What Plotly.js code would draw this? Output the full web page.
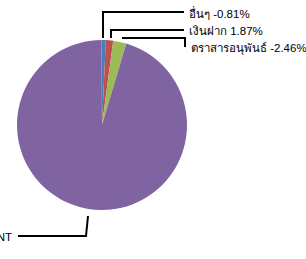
<!DOCTYPE html>
<html>
<head>
<meta charset="utf-8">
<script src="https://cdn.plot.ly/plotly-3.0.1.min.js"></script>
<style>html,body{margin:0;padding:0;background:#fff;}#chart{width:306px;height:259px;}</style>
</head>
<body>
<div id="chart"></div>
<script>
// Data
var categories = ["อื่นๆ", "เงินฝาก", "ตราสารอนุพันธ์", "INVESTMENT"];
var labelValues = ["-0.81%", "1.87%", "-2.46%", ""];
var sliceValues = [0.8, 1.4, 2.5, 95.3];
var colors = ["#4a7ebb", "#c0504d", "#9bbb59", "#8064a2"];

var W = 306, H = 259;
function px(x) { return x / W; }
function py(y) { return 1 - y / H; }

// leader lines (pixel paths), label positions
var leaders = [
  [[103, 38], [103, 12], [184, 12]],
  [[111, 38], [111, 30], [184, 30]],
  [[122, 38], [185, 38], [185, 47]],
  [[88, 216], [86, 236], [18, 236]]
];
var labelPos = [
  {x: 187, y: 13, anchor: "left"},
  {x: 187, y: 31, anchor: "left"},
  {x: 189, y: 48, anchor: "left"},
  {x: 14, y: 237, anchor: "right"}
];

var shapes = leaders.map(function (pts) {
  var d = pts.map(function (p, i) { return (i ? "L" : "M") + px(p[0]) + "," + py(p[1]); }).join(" ");
  return {type: "path", xref: "paper", yref: "paper", path: d, line: {color: "#000", width: 2}};
});

var annotations = categories.map(function (c, i) {
  var t = labelValues[i] ? c + " " + labelValues[i] : c;
  return {
    text: t, x: px(labelPos[i].x), y: py(labelPos[i].y), xref: "paper", yref: "paper",
    xanchor: labelPos[i].anchor, yanchor: "middle", showarrow: false,
    font: {family: "Liberation Sans, Arial, Noto Sans, DejaVu Sans, sans-serif", size: 11.5, color: "#000"}
  };
});

var trace = {
  type: "pie",
  labels: categories,
  values: sliceValues,
  marker: {colors: colors, line: {width: 0}},
  sort: false,
  direction: "clockwise",
  rotation: -0.3,
  textinfo: "none",
  hoverinfo: "none",
  domain: {x: [px(17), px(187)], y: [py(210), py(40)]}
};

Plotly.newPlot("chart", [trace], {
  width: W, height: H,
  margin: {l: 0, r: 0, t: 0, b: 0},
  showlegend: false,
  paper_bgcolor: "#fff",
  shapes: shapes,
  annotations: annotations
}, {displayModeBar: false, staticPlot: true});
</script>
</body>
</html>
